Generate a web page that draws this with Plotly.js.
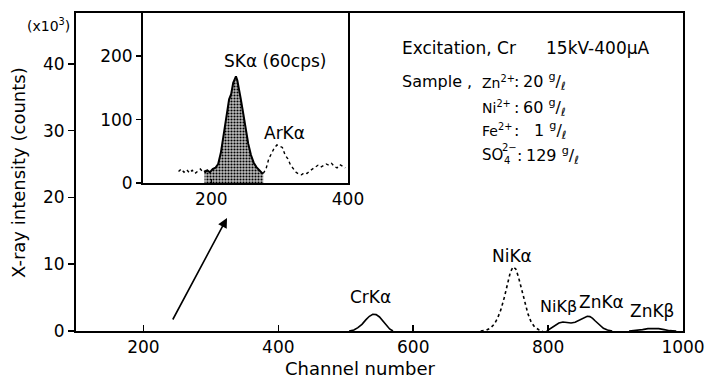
<!DOCTYPE html>
<html><head><meta charset="utf-8">
<script src="https://cdn.plot.ly/plotly-3.0.1.min.js"></script>
<style>html,body{margin:0;padding:0;background:#fff}#chart{width:708px;height:382px}</style>
</head><body><div id="chart"></div>
<script>
// ---- Main spectrum (counts x10^3) ----
const crKaCh = [505,512,518,524,530,535,540,545,550,555,560,565,570];
const crKaV  = [0,0.15,0.5,1.0,1.7,2.2,2.5,2.45,2.1,1.5,0.8,0.3,0];
const niKaCh = [700,708,714,720,725,730,735,740,744,748,752,756,760,765,770,775,780,786,792];
const niKaV  = [0,0.1,0.4,1.0,1.9,3.2,5.0,7.2,8.8,9.6,9.3,8.1,6.4,4.3,2.6,1.3,0.6,0.2,0];
const niKbZnKaCh = [798,804,810,816,822,828,834,840,846,852,858,862,866,870,876,882,888,895];
const niKbZnKaV  = [0,0.4,0.9,1.2,1.35,1.3,1.2,1.3,1.6,1.95,2.2,2.15,1.9,1.5,0.9,0.4,0.15,0];
const znKbCh = [920,930,940,948,956,964,972,980,990];
const znKbV  = [0,0.05,0.2,0.35,0.4,0.35,0.2,0.05,0];
const mainXTicks = [200,400,600,800,1000];
const mainYTicks = [0,10,20,30,40];

// ---- Inset (cps) ----
const bgLeftCh = [152,156,160,164,168,172,176,180,184,188,192];
const bgLeftV  = [18,22,17,21,16,20,15,19,22,17,20];
const sKaCh = [190,194,198,202,206,210,214,218,222,226,229,232,234,236,238,240,243,246,250,254,258,262,266,270,274,276];
const sKaV  = [16,20,17,22,24,30,48,78,108,132,140,158,163,168,162,152,133,114,85,62,44,32,25,20,16,15];
const arKaCh = [276,280,284,288,292,296,300,304,308,312,316,320,324,328,332,336,340,344,348,352,356,360,364,368,372,376,380,384,388,392,396];
const arKaV  = [15,22,38,48,55,60,58,56,44,38,28,22,17,14,13,16,15,19,22,24,28,25,27,30,28,31,26,24,29,26,24];
const insetXTicks = [200,400];
const insetYTicks = [0,100,200];

const FONT = 'DejaVu Sans';
const L=76, R=683, T=13, B=331;
function px(x,y){ return {x:(x-L)/(R-L), y:(B-y)/(B-T)}; }
function ann(text,x,y,opts,size){ const p=px(x,y); return Object.assign({text:text,xref:'paper',yref:'paper',x:p.x,y:p.y,showarrow:false,xanchor:'center',yanchor:'middle',font:{family:FONT,size:size||16,color:'#000'}},opts||{}); }

const blk = {color:'#000', width:1.6};
const traces = [
  {x:crKaCh,y:crKaV,mode:'lines',line:blk,xaxis:'x',yaxis:'y'},
  {x:niKaCh,y:niKaV,mode:'lines',line:{color:'#000',width:1.6,dash:'dot'},xaxis:'x',yaxis:'y'},
  {x:niKbZnKaCh,y:niKbZnKaV,mode:'lines',line:blk,xaxis:'x',yaxis:'y'},
  {x:znKbCh,y:znKbV,mode:'lines',line:blk,xaxis:'x',yaxis:'y'},
  {x:bgLeftCh,y:bgLeftV,mode:'lines',line:{color:'#000',width:1.4,dash:'dot'},xaxis:'x2',yaxis:'y2'},
  {x:sKaCh,y:sKaV,mode:'lines',line:{color:'#000',width:2},fill:'tozeroy',fillcolor:'#9a9a9a',
   fillpattern:{shape:'.',fgcolor:'#000',bgcolor:'#bdbdbd',size:3,solidity:0.4},xaxis:'x2',yaxis:'y2'},
  {x:arKaCh,y:arKaV,mode:'lines',line:{color:'#000',width:1.4,dash:'dot'},xaxis:'x2',yaxis:'y2'}
];

const axBase = {showline:true,linecolor:'#000',linewidth:2,mirror:true,showgrid:false,zeroline:false,
  tickcolor:'#000',tickwidth:1.5,tickfont:{family:FONT,size:17,color:'#000'}};

const i0 = px(143,183), i1 = px(348,13);
const layout = {
  width:708,height:382,margin:{l:L,r:708-R,t:T,b:382-B},
  paper_bgcolor:'#fff',plot_bgcolor:'#fff',showlegend:false,
  font:{family:FONT,color:'#000'},
  xaxis:Object.assign({},axBase,{range:[100,1000],tickvals:mainXTicks,ticks:'inside',ticklen:6}),
  yaxis:Object.assign({},axBase,{range:[0,47.6],tickvals:mainYTicks,ticks:'outside',ticklen:6}),
  xaxis2:Object.assign({},axBase,{anchor:'y2',domain:[i0.x,i1.x],range:[100,400],tickvals:insetXTicks,ticks:'inside',ticklen:4}),
  yaxis2:Object.assign({},axBase,{anchor:'x2',domain:[i0.y,i1.y],range:[0,268],tickvals:insetYTicks,ticks:'outside',ticklen:5}),
  annotations:[
    ann('X-ray intensity (counts)',18,173,{textangle:-90},18),
    ann('(x10<sup>3</sup>)',48,25,{},14),
    ann('Channel number',360,368,{},18),
    ann('Excitation, Cr',400,48,{xanchor:'left'},17),
    ann('15kV-400μA',652,48,{xanchor:'right'},17),
    ann('Sample ,',400,82,{xanchor:'left'}),
    ann('Zn<sup>2+</sup>',480,82,{xanchor:'left'},14),
    ann(':',516,82,{},16),
    ann('20 <sup>g</sup>/<sub>ℓ</sub>',521,82,{xanchor:'left'}),
    ann('Ni<sup>2+</sup>',480,107,{xanchor:'left'},14),
    ann(':',516,107,{},16),
    ann('60 <sup>g</sup>/<sub>ℓ</sub>',521,107,{xanchor:'left'}),
    ann('Fe<sup>2+</sup>',480,130,{xanchor:'left'},14),
    ann(':',516,130,{},16),
    ann('1 <sup>g</sup>/<sub>ℓ</sub>',532,130,{xanchor:'left'}),
    ann('SO',480,155,{xanchor:'left'},15),
    ann('4',502,160,{xanchor:'left'},10),
    ann('2−',500,147,{xanchor:'left'},10),
    ann(':',519,155,{},16),
    ann('129 <sup>g</sup>/<sub>ℓ</sub>',524,155,{xanchor:'left'}),
    ann('SKα (60cps)',275,61,{},17),
    ann('ArKα',284,133,{},17),
    ann('CrKα',370,297,{},17),
    ann('NiKα',512,256,{},17),
    ann('NiKβ',558,306,{},16),
    ann('ZnKα',601,302,{},17),
    ann('ZnKβ',652,311,{},17),
    Object.assign(ann('',227,218),{showarrow:true,arrowhead:2,arrowsize:1.2,arrowwidth:1.6,arrowcolor:'#000',ax:172-227,ay:321-218,standoff:0})
  ]
};
Plotly.newPlot('chart',traces,layout,{displayModeBar:false,staticPlot:true});
</script></body></html>
